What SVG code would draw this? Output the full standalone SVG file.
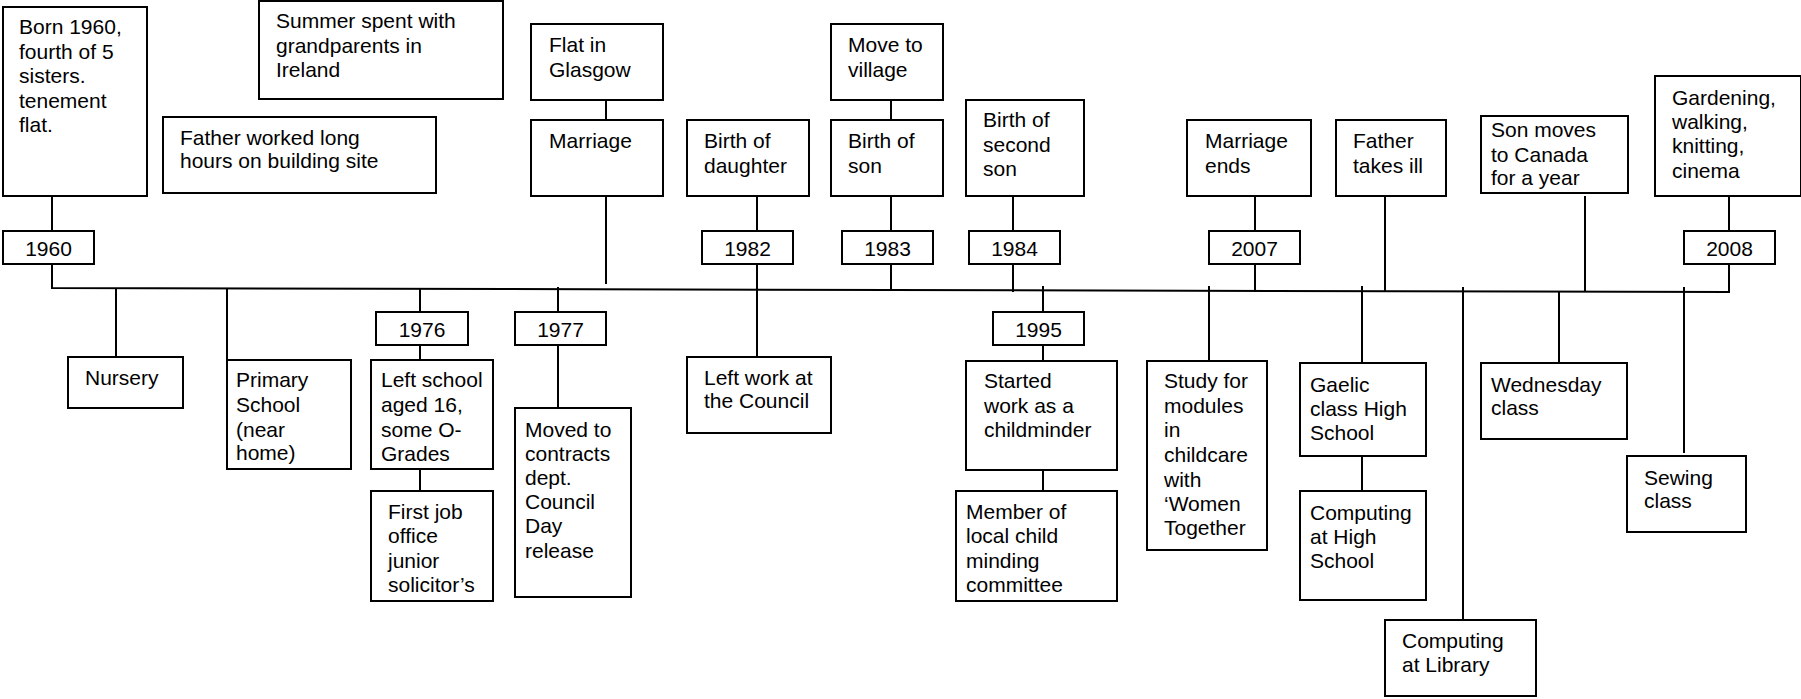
<svg xmlns="http://www.w3.org/2000/svg" width="1801" height="699" viewBox="0 0 1801 699">
<style>
rect{fill:#fff;stroke:#000;stroke-width:2}
.c line,.c polyline{stroke:#000;stroke-width:2;fill:none}
text{font-family:"Liberation Sans",Arial,sans-serif;font-size:21px;fill:#000}
.y{text-anchor:middle}
</style>
<rect x="0" y="0" width="1801" height="699" style="stroke:none"/>
<g class="c" id="connectors">
<polyline points="52,196 52,231"/>
<polyline points="52,264 52,288 1729,292 1729,264"/>
<line x1="1729" y1="196" x2="1729" y2="231"/>
<line x1="606" y1="100" x2="606" y2="120"/>
<line x1="606" y1="196" x2="606" y2="284"/>
<line x1="757" y1="196" x2="757" y2="231"/>
<line x1="757" y1="264" x2="757" y2="357"/>
<line x1="891" y1="100" x2="891" y2="124"/>
<line x1="891" y1="196" x2="891" y2="231"/>
<line x1="891" y1="264" x2="891" y2="290"/>
<line x1="1013" y1="196" x2="1013" y2="231"/>
<line x1="1013" y1="264" x2="1013" y2="292"/>
<line x1="1255" y1="196" x2="1255" y2="231"/>
<line x1="1255" y1="264" x2="1255" y2="292"/>
<line x1="1385" y1="196" x2="1385" y2="292"/>
<line x1="1585" y1="196" x2="1585" y2="292"/>
<line x1="116" y1="288" x2="116" y2="357"/>
<line x1="227" y1="288" x2="227" y2="360"/>
<line x1="420" y1="288" x2="420" y2="312"/>
<line x1="420" y1="345" x2="420" y2="360"/>
<line x1="420" y1="469" x2="420" y2="491"/>
<line x1="558" y1="287" x2="558" y2="312"/>
<line x1="558" y1="345" x2="558" y2="408"/>
<line x1="1043" y1="286" x2="1043" y2="312"/>
<line x1="1043" y1="345" x2="1043" y2="361"/>
<line x1="1043" y1="470" x2="1043" y2="491"/>
<line x1="1209" y1="286" x2="1209" y2="361"/>
<line x1="1362" y1="286" x2="1362" y2="363"/>
<line x1="1362" y1="456" x2="1362" y2="491"/>
<line x1="1463" y1="287" x2="1463" y2="620"/>
<line x1="1559" y1="291" x2="1559" y2="363"/>
<line x1="1684" y1="287" x2="1684" y2="453"/>
</g>
<g id="born"><rect x="3" y="7" width="144" height="189"/><text><tspan x="19" y="34">Born 1960,</tspan><tspan x="19" y="59">fourth of 5</tspan><tspan x="19" y="83">sisters.</tspan><tspan x="19" y="108">tenement</tspan><tspan x="19" y="132">flat.</tspan></text></g>
<g id="summer"><rect x="259" y="1" width="244" height="98"/><text><tspan x="276" y="28">Summer spent with</tspan><tspan x="276" y="53">grandparents in</tspan><tspan x="276" y="77">Ireland</tspan></text></g>
<g id="father-worked"><rect x="163" y="117" width="273" height="76"/><text><tspan x="180" y="145">Father worked long</tspan><tspan x="180" y="168">hours on building site</tspan></text></g>
<g id="flat"><rect x="531" y="24" width="132" height="76"/><text><tspan x="549" y="52">Flat in</tspan><tspan x="549" y="77">Glasgow</tspan></text></g>
<g id="marriage"><rect x="531" y="120" width="132" height="76"/><text x="549" y="148">Marriage</text></g>
<g id="daughter"><rect x="687" y="120" width="122" height="76"/><text><tspan x="704" y="148">Birth of</tspan><tspan x="704" y="173">daughter</tspan></text></g>
<g id="village"><rect x="831" y="24" width="112" height="76"/><text><tspan x="848" y="52">Move to</tspan><tspan x="848" y="77">village</tspan></text></g>
<g id="son"><rect x="831" y="120" width="112" height="76"/><text><tspan x="848" y="148">Birth of</tspan><tspan x="848" y="173">son</tspan></text></g>
<g id="second-son"><rect x="966" y="100" width="118" height="96"/><text><tspan x="983" y="127">Birth of</tspan><tspan x="983" y="152">second</tspan><tspan x="983" y="176">son</tspan></text></g>
<g id="marriage-ends"><rect x="1187" y="120" width="124" height="76"/><text><tspan x="1205" y="148">Marriage</tspan><tspan x="1205" y="173">ends</tspan></text></g>
<g id="father-ill"><rect x="1336" y="120" width="110" height="76"/><text><tspan x="1353" y="148">Father</tspan><tspan x="1353" y="173">takes ill</tspan></text></g>
<g id="canada"><rect x="1481" y="116" width="147" height="77"/><text><tspan x="1491" y="137">Son moves</tspan><tspan x="1491" y="162">to Canada</tspan><tspan x="1491" y="185">for a year</tspan></text></g>
<g id="hobbies"><rect x="1655" y="76" width="146" height="120"/><text><tspan x="1672" y="105">Gardening,</tspan><tspan x="1672" y="129">walking,</tspan><tspan x="1672" y="153">knitting,</tspan><tspan x="1672" y="178">cinema</tspan></text></g>
<g id="y1960"><rect x="3" y="231" width="91" height="33"/><text class="y" x="48.5" y="256">1960</text></g>
<g id="y1982"><rect x="702" y="231" width="91" height="33"/><text class="y" x="747.5" y="256">1982</text></g>
<g id="y1983"><rect x="842" y="231" width="91" height="33"/><text class="y" x="887.5" y="256">1983</text></g>
<g id="y1984"><rect x="969" y="231" width="91" height="33"/><text class="y" x="1014.5" y="256">1984</text></g>
<g id="y2007"><rect x="1209" y="231" width="91" height="33"/><text class="y" x="1254.5" y="256">2007</text></g>
<g id="y2008"><rect x="1684" y="231" width="91" height="33"/><text class="y" x="1729.5" y="256">2008</text></g>
<g id="y1976"><rect x="376" y="312" width="92" height="33"/><text class="y" x="422" y="337">1976</text></g>
<g id="y1977"><rect x="515" y="312" width="91" height="33"/><text class="y" x="560.5" y="337">1977</text></g>
<g id="y1995"><rect x="993" y="312" width="91" height="33"/><text class="y" x="1038.5" y="337">1995</text></g>
<g id="nursery"><rect x="68" y="357" width="115" height="51"/><text x="85" y="385">Nursery</text></g>
<g id="primary"><rect x="227" y="360" width="124" height="109"/><text><tspan x="236" y="387">Primary</tspan><tspan x="236" y="412">School</tspan><tspan x="236" y="437">(near</tspan><tspan x="236" y="460">home)</tspan></text></g>
<g id="left-school"><rect x="371" y="360" width="122" height="109"/><text><tspan x="381" y="387">Left school</tspan><tspan x="381" y="412">aged 16,</tspan><tspan x="381" y="437">some O-</tspan><tspan x="381" y="461">Grades</tspan></text></g>
<g id="first-job"><rect x="371" y="491" width="122" height="110"/><text><tspan x="388" y="519">First job</tspan><tspan x="388" y="543">office</tspan><tspan x="388" y="568">junior</tspan><tspan x="388" y="592">solicitor’s</tspan></text></g>
<g id="contracts"><rect x="515" y="408" width="116" height="189"/><text><tspan x="525" y="437">Moved to</tspan><tspan x="525" y="461">contracts</tspan><tspan x="525" y="485">dept.</tspan><tspan x="525" y="509">Council</tspan><tspan x="525" y="533">Day</tspan><tspan x="525" y="558">release</tspan></text></g>
<g id="left-work"><rect x="687" y="357" width="144" height="76"/><text><tspan x="704" y="385">Left work at</tspan><tspan x="704" y="408">the Council</tspan></text></g>
<g id="childminder"><rect x="966" y="361" width="151" height="109"/><text><tspan x="984" y="388">Started</tspan><tspan x="984" y="413">work as a</tspan><tspan x="984" y="437">childminder</tspan></text></g>
<g id="committee"><rect x="956" y="491" width="161" height="110"/><text><tspan x="966" y="519">Member of</tspan><tspan x="966" y="543">local child</tspan><tspan x="966" y="568">minding</tspan><tspan x="966" y="592">committee</tspan></text></g>
<g id="study"><rect x="1147" y="361" width="120" height="189"/><text><tspan x="1164" y="388">Study for</tspan><tspan x="1164" y="413">modules</tspan><tspan x="1164" y="437">in</tspan><tspan x="1164" y="462">childcare</tspan><tspan x="1164" y="487">with</tspan><tspan x="1164" y="511">‘Women</tspan><tspan x="1164" y="535">Together</tspan></text></g>
<g id="gaelic"><rect x="1300" y="363" width="126" height="93"/><text><tspan x="1310" y="392">Gaelic</tspan><tspan x="1310" y="416">class High</tspan><tspan x="1310" y="440">School</tspan></text></g>
<g id="computing-hs"><rect x="1300" y="491" width="126" height="109"/><text><tspan x="1310" y="520">Computing</tspan><tspan x="1310" y="544">at High</tspan><tspan x="1310" y="568">School</tspan></text></g>
<g id="computing-lib"><rect x="1385" y="620" width="151" height="76"/><text><tspan x="1402" y="648">Computing</tspan><tspan x="1402" y="672">at Library</tspan></text></g>
<g id="wednesday"><rect x="1481" y="363" width="146" height="76"/><text><tspan x="1491" y="392">Wednesday</tspan><tspan x="1491" y="415">class</tspan></text></g>
<g id="sewing"><rect x="1627" y="456" width="119" height="76"/><text><tspan x="1644" y="485">Sewing</tspan><tspan x="1644" y="508">class</tspan></text></g>
</svg>
